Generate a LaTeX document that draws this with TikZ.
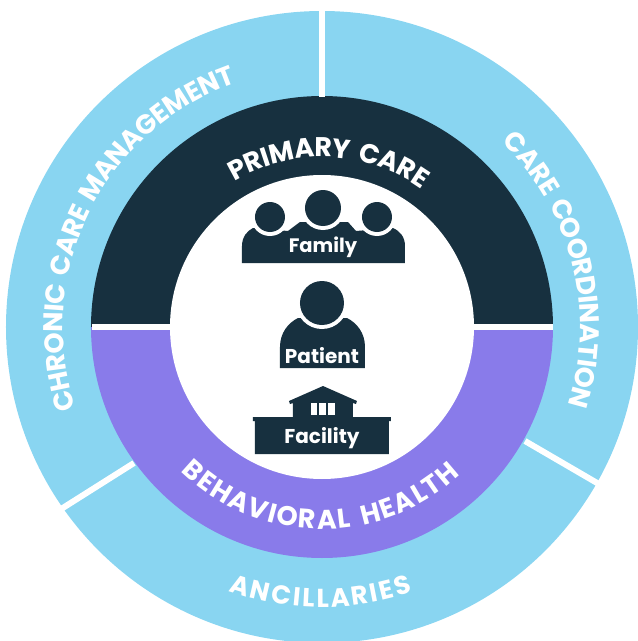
\documentclass[tikz,border=0pt]{standalone}
\usepackage{fontspec}
\setmainfont{Poppins}
\definecolor{navy}{HTML}{17303F}
\definecolor{violet}{HTML}{897BEA}
\definecolor{sky}{HTML}{89D5F1}
\tikzset{
  x=1pt,y=1pt,
  divider/.style={draw=white,line width=6pt},
  icon/.style={fill=navy},
  gap/.style={fill=white},
  iconlabel/.style={text=white,font=\fontsize{20}{22}\selectfont\bfseries,inner sep=0pt},
  ringletter/.style={text=white,inner sep=0pt,outer sep=0pt,minimum size=0pt,anchor=base},
}
\newlength\ringsum
\newlength\ringpos
\newlength\ringwd
\newcount\ringnum
\newsavebox\ringbox
\def\ringspace{~}
\newcommand{\ringmeasure}[2]{%
  \setbox\ringbox=\hbox{\pgfinterruptpicture\fontsize{#1}{#1}\selectfont\bfseries #2\endpgfinterruptpicture}%
  \ifx#2\ringspace \wd\ringbox=1.5\wd\ringbox \fi}
% radius, centre angle, span in degrees, direction (1 clockwise, -1 anticlockwise), size, name, letters
\newcommand{\ringtext}[7]{%
  \global\ringsum=0pt \global\ringnum=0
  \foreach \ch in {#7}{%
    \ringmeasure{#5}{\ch}%
    \global\advance\ringsum by \wd\ringbox
    \global\advance\ringnum by 1 }%
  \pgfmathsetmacro\ringwhole{#3/57.2958*#1}%
  \pgfmathsetmacro\ringtrack{(\ringwhole-\the\ringsum)/(\the\ringnum-1)}%
  \global\ringpos=0pt
  \foreach \ch [count=\ci] in {#7}{%
    \ringmeasure{#5}{\ch}%
    \ringwd=\wd\ringbox
    \edef\ringmid{\the\dimexpr\ringpos+\ringwd/2\relax}%
    \pgfmathsetmacro\ringangle{#2-#4*(\ringmid-\ringwhole/2)/#1*57.2958}%
    \pgfmathsetmacro\ringturn{\ringangle-90*#4}%
    \ifx\ch\ringspace\else
      \node[ringletter,rotate=\ringturn] (#6-\ci) at (\ringangle:#1)
        {\fontsize{#5}{#5}\selectfont\bfseries\ch};
    \fi
    \global\advance\ringpos by \ringwd
    \global\advance\ringpos by \ringtrack pt\relax}%
}
\begin{document}
\begin{tikzpicture}
\useasboundingbox (-322,-314) rectangle (316,327);
\clip (-322,-314) rectangle (316,327);
% rings
\fill[sky] (0,0) circle[radius=316];
\fill[navy] (-231,0) arc[start angle=180,end angle=0,radius=231] -- cycle;
\fill[violet] (-231,0) arc[start angle=180,end angle=360,radius=231] -- cycle;
\fill[white] (0,0) circle[radius=152];
% dividers and icons, in pixel coordinates
\begin{scope}[shift={(-322,327)},y=-1pt]
\coordinate (topA) at (322,-2);
\coordinate (topB) at (322,97);
\coordinate (rightA) at (525,441);
\coordinate (rightB) at (604,487);
\coordinate (leftA) at (134,463);
\coordinate (leftB) at (58,511);
\coordinate (midA) at (92,327);
\coordinate (midB) at (553,327);
\draw[divider] (topA) -- (topB);
\draw[divider] (rightA) -- (rightB);
\draw[divider] (leftA) -- (leftB);
\draw[divider] (midA) -- (midB);
% family
\fill[icon] (242,263) -- (242,246) .. controls (242,237) and (247,231) .. (253,228)
  -- (288,231) -- (300,222) -- (348,222) -- (356,231) -- (393,228)
  .. controls (400,231) and (405,237) .. (405,246) -- (405,263) -- cycle;
\fill[gap] (270,217) circle[radius=19];
\fill[gap] (377,217) circle[radius=19];
\fill[gap] (323,208) circle[radius=22];
\fill[icon] (270,217) circle[radius=15];
\fill[icon] (377,217) circle[radius=15];
\fill[icon] (323,208) circle[radius=18];
\node[iconlabel,font=\fontsize{19.5}{22}\selectfont\bfseries] (family) at (323,247) {Family};
% patient
\fill[icon] (280,368) -- (280,347) .. controls (280,333) and (288,323) .. (298,318)
  -- (347,318) .. controls (357,323) and (365,333) .. (365,347) -- (365,368) -- cycle;
\fill[gap] (322,303) circle[radius=26];
\fill[icon] (322,303) circle[radius=22];
\node[iconlabel] (patient) at (322,356) {Patient};
% facility
\fill[icon] (323,386) -- (357,401) -- (356,404) -- (353,403) -- (353,417) -- (391,417) -- (391,421)
  -- (389,421) -- (389,454) -- (255,454) -- (255,421) -- (253,421) -- (253,417) -- (293,417)
  -- (293,403) -- (290,404) -- (289,401) -- cycle;
\fill[gap] (311,403) rectangle (317,415);
\fill[gap] (319,403) rectangle (326,415);
\fill[gap] (328,403) rectangle (335,415);
\node[iconlabel] (facility) at (322,438) {Facility};
\end{scope}
% curved labels
\ringtext{170}{87.6}{67}{1}{27}{primary}{P,R,I,M,A,R,Y,~,C,A,R,E}
\ringtext{202}{269.4}{87.5}{-1}{27}{behav}{B,E,H,A,V,I,O,R,A,L,~,H,E,A,L,T,H}
\ringtext{280}{269.7}{38.5}{-1}{26}{ancil}{A,N,C,I,L,L,A,R,I,E,S}
\ringtext{259}{153.8}{89}{1}{27}{chronic}{C,H,R,O,N,I,C,~,C,A,R,E,~,M,A,N,A,G,E,M,E,N,T}
\ringtext{258}{14.1}{63.5}{1}{27}{coord}{C,A,R,E,~,C,O,O,R,D,I,N,A,T,I,O,N}
\end{tikzpicture}
\end{document}
